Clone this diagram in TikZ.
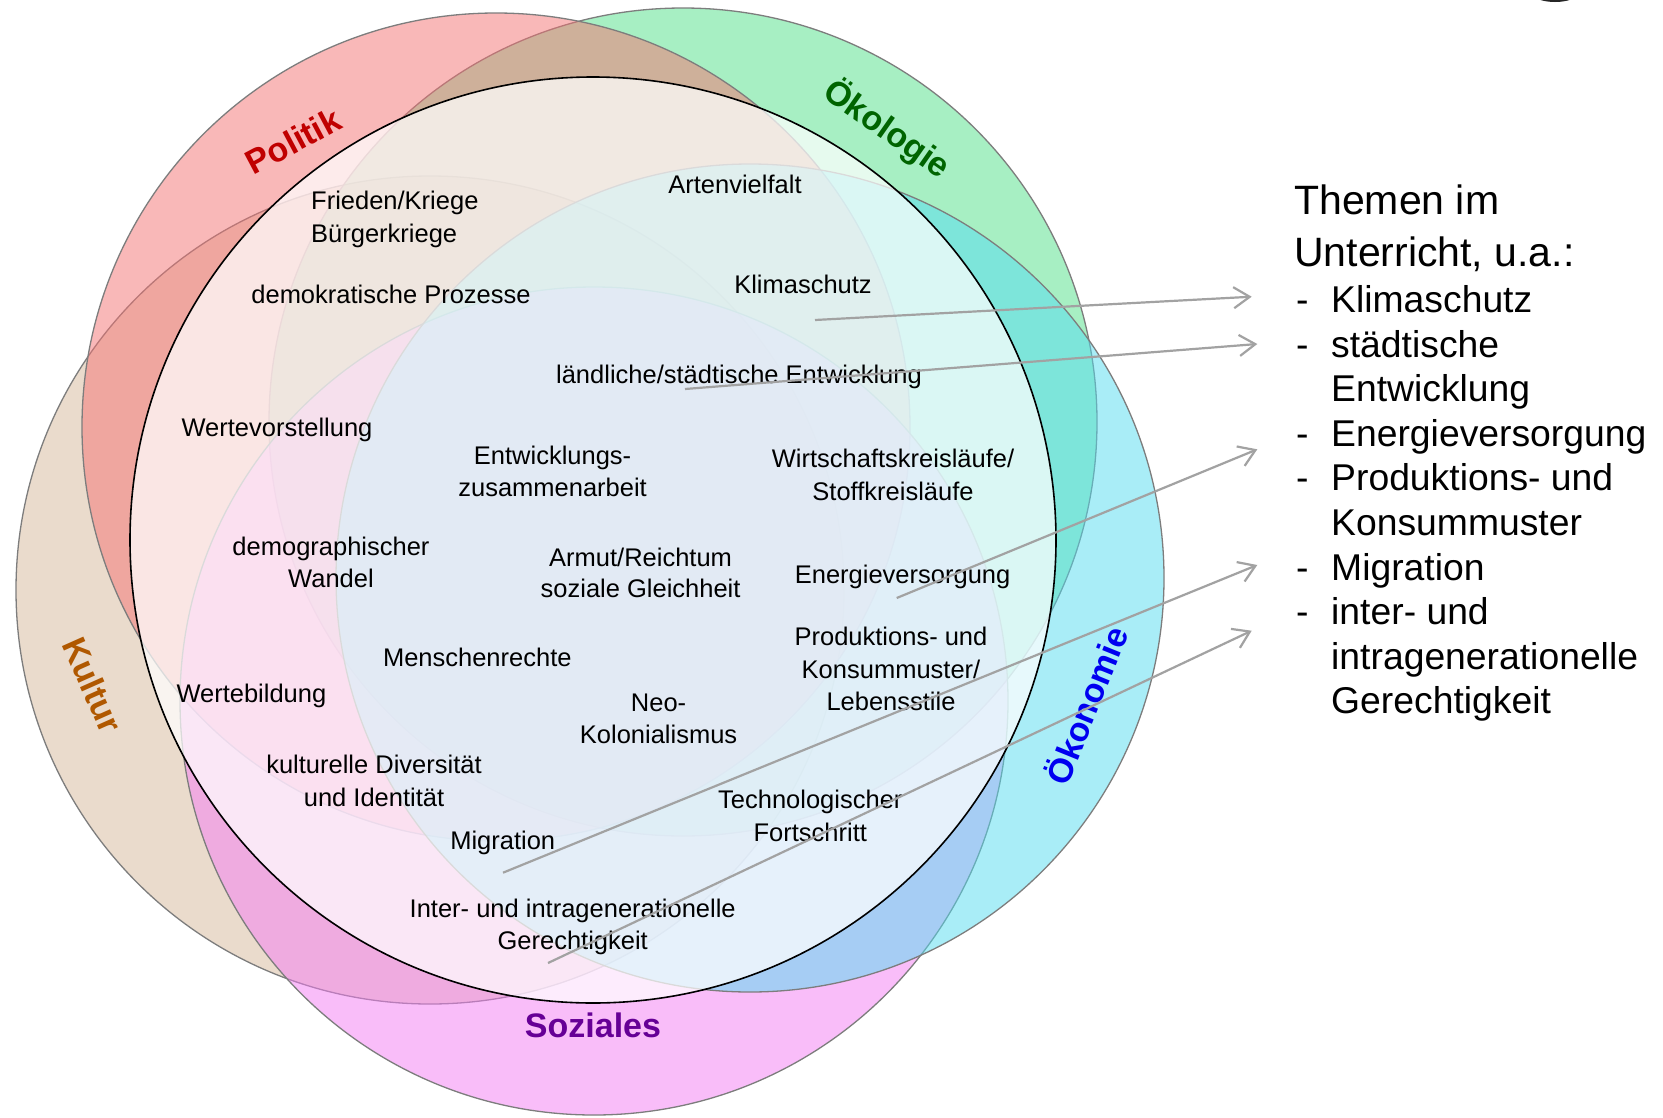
\documentclass[tikz,border=0pt]{standalone}
\usepackage{fontspec}
\setmainfont{Liberation Sans}
\usetikzlibrary{arrows.meta}
\definecolor{cPol}{RGB}{245,115,115}
\definecolor{cOko}{RGB}{81,225,137}
\definecolor{cOek}{RGB}{85,221,241}
\definecolor{cSoz}{RGB}{245,125,245}
\definecolor{cKul}{RGB}{215,185,155}
\definecolor{lPol}{RGB}{192,0,0}
\definecolor{lOko}{RGB}{0,100,0}
\definecolor{lOek}{RGB}{0,0,240}
\definecolor{lSoz}{RGB}{102,0,150}
\definecolor{lKul}{RGB}{176,88,0}
\definecolor{arrgray}{RGB}{162,162,162}
\definecolor{rimgray}{RGB}{125,125,125}
\newcommand\fsin{\fontsize{25.5pt}{32pt}\selectfont}
\newcommand\fslab{\fontsize{34pt}{40pt}\selectfont\bfseries}
\newcommand\fshead{\fontsize{41pt}{50pt}\selectfont}
\newcommand\fsitem{\fontsize{37.3pt}{45pt}\selectfont}
\tikzset{
  circ/.style={draw=rimgray, line width=1.3pt, fill opacity=0.5},
  inl/.style={font=\fsin, anchor=base, inner sep=0pt},
  inlw/.style={font=\fsin, anchor=base west, inner sep=0pt},
  biglab/.style={font=\fslab, inner sep=0pt},
  headl/.style={font=\fshead, anchor=base west, inner sep=0pt},
  iteml/.style={font=\fsitem, anchor=base west, inner sep=0pt},
  conn/.style={draw=arrgray, line width=2.2pt, -{Straight Barb[length=16pt,width=21pt,line width=2.2pt]}}
}
\begin{document}
\begin{tikzpicture}[x=1pt,y=-1pt]
\useasboundingbox (0,0) rectangle (1663,1117);
\fill[white] (0,0) rectangle (1663,1117);
% small dark mark at top edge
\begin{scope}
\clip (0,0) rectangle (1663,1117);
\fill[black!85] (1555,-6) ellipse[x radius=22, y radius=8];
\end{scope}
% coloured circles
\path[circ, fill=cKul] (430,590) circle[radius=414];
\path[circ, fill=cOko] (683,422) circle[radius=414];
\path[circ, fill=cPol] (496,427) circle[radius=414];
\path[circ, fill=cSoz] (594,701) circle[radius=414];
\path[circ, fill=cOek] (750,578) circle[radius=414];
% white inner circle
\path[draw=black, line width=1.6pt, fill=white, fill opacity=0.72] (593,540) circle[radius=463];
% circle labels
\node[biglab, text=lPol, rotate=28] (lpol) at (293,141) {Politik};
\node[biglab, text=lOko, rotate=-35] (loko) at (887,129) {Ökologie};
\node[biglab, text=lOek, rotate=68] (loek) at (1085,705) {Ökonomie};
\node[biglab, text=lKul, rotate=-66] (lkul) at (93,685) {Kultur};
\node[biglab, text=lSoz, anchor=base] (lsoz) at (593,1037) {Soziales};
% inner labels
\node[inlw] (a1) at (311,209.5) {Frieden/Kriege};
\node[inlw] (a2) at (311,242.8) {Bürgerkriege};
\node[inl] (a3) at (735,193.5) {Artenvielfalt};
\node[inl] (a4) at (803,293) {Klimaschutz};
\node[inl] (a5) at (391,303) {demokratische Prozesse};
\node[inl] (a6) at (739,383.4) {ländliche/städtische Entwicklung};
\node[inl] (a7) at (277,436.4) {Wertevorstellung};
\node[inl] (a8) at (552.6,464) {Entwicklungs-};
\node[inl] (a9) at (552.6,496) {zusammenarbeit};
\node[inl] (a10) at (893,467.5) {Wirtschaftskreisläufe/};
\node[inl] (a11) at (893,500) {Stoffkreisläufe};
\node[inl] (a12) at (331,555.2) {demographischer};
\node[inl] (a13) at (331,587) {Wandel};
\node[inl] (a14) at (640.6,566) {Armut/Reichtum};
\node[inl] (a15) at (640.6,597.6) {soziale Gleichheit};
\node[inl] (a16) at (902.6,583.5) {Energieversorgung};
\node[inl] (a17) at (891,645.4) {Produktions- und};
\node[inl] (a18) at (891,678.2) {Konsummuster/};
\node[inl] (a19) at (891,710) {Lebensstile};
\node[inl] (a20) at (477.3,666.6) {Menschenrechte};
\node[inl] (a21) at (251.4,702.6) {Wertebildung};
\node[inl] (a22) at (658.6,711) {Neo-};
\node[inl] (a23) at (658.6,743) {Kolonialismus};
\node[inl] (a24) at (374,773.5) {kulturelle Diversität};
\node[inl] (a25) at (374,806.3) {und Identität};
\node[inl] (a26) at (810.3,808.7) {Technologischer};
\node[inl] (a27) at (810.3,841.6) {Fortschritt};
\node[inl] (a28) at (502.7,849.5) {Migration};
\node[inl] (a29) at (572.7,917) {Inter- und intragenerationelle};
\node[inl] (a30) at (572.7,949.5) {Gerechtigkeit};
% right-hand list
\node[headl] (h1) at (1294,214.5) {Themen im};
\node[headl] (h2) at (1294,266) {Unterricht, u.a.:};
\node[iteml] (d1) at (1296,312.5) {-};
\node[iteml] (i1) at (1331,312.5) {Klimaschutz};
\node[iteml] (d2) at (1296,357.1) {-};
\node[iteml] (i2) at (1331,357.1) {städtische};
\node[iteml] (i2b) at (1331,401.7) {Entwicklung};
\node[iteml] (d3) at (1296,446.3) {-};
\node[iteml] (i3) at (1331,446.3) {Energieversorgung};
\node[iteml] (d4) at (1296,490.9) {-};
\node[iteml] (i4) at (1331,490.9) {Produktions- und};
\node[iteml] (i4b) at (1331,535.5) {Konsummuster};
\node[iteml] (d5) at (1296,580.1) {-};
\node[iteml] (i5) at (1331,580.1) {Migration};
\node[iteml] (d6) at (1296,624.7) {-};
\node[iteml] (i6) at (1331,624.7) {inter- und};
\node[iteml] (i6b) at (1331,669.3) {intragenerationelle};
\node[iteml] (i6c) at (1331,713.9) {Gerechtigkeit};
% connectors
\coordinate (s1) at (815,320);
\coordinate (e1) at (1251.7,296.7);
\coordinate (s2) at (685,389);
\coordinate (e2) at (1257.3,344);
\coordinate (s3) at (896.7,598);
\coordinate (e3) at (1257.3,449.3);
\coordinate (s4) at (503,872.7);
\coordinate (e4) at (1257.3,565);
\coordinate (s5) at (548,963);
\coordinate (e5) at (1251.7,630.7);
\draw[conn] (s1) -- (e1);
\draw[conn] (s2) -- (e2);
\draw[conn] (s3) -- (e3);
\draw[conn] (s4) -- (e4);
\draw[conn] (s5) -- (e5);
\end{tikzpicture}
\end{document}
